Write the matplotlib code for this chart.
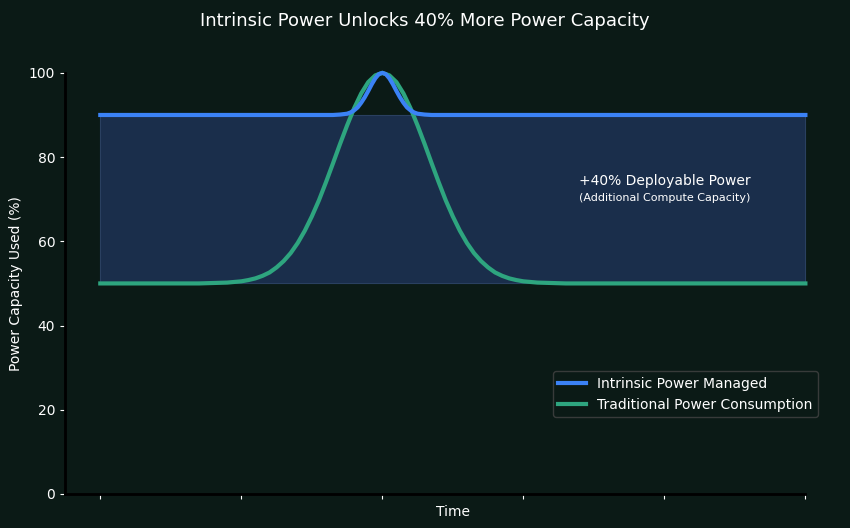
import matplotlib
matplotlib.use('Agg')
import matplotlib.pyplot as plt

# data (time axis 0..10, peak at t=4)
time_range = [0, 10]
band_low = 50
band_high = 90

blue_t = [0, 3.3, 3.4, 3.45, 3.5, 3.55, 3.6, 3.65, 3.7, 3.75, 3.8, 3.85, 3.9, 3.95, 4.0,
          4.05, 4.1, 4.15, 4.2, 4.25, 4.3, 4.35, 4.4, 4.45, 4.5, 4.55, 4.6, 4.7, 10]
blue_v = [90, 90.0, 90.1, 90.2, 90.3, 90.6, 91.1, 91.8, 92.9, 94.2, 95.7, 97.3, 98.7, 99.7, 100,
          99.7, 98.7, 97.3, 95.7, 94.2, 92.9, 91.8, 91.1, 90.6, 90.3, 90.2, 90.1, 90.0, 90]

green_t = [0, 1.4, 1.6, 1.8, 2.0, 2.1, 2.2, 2.3, 2.4, 2.5, 2.6, 2.7, 2.8, 2.9, 3.0,
           3.1, 3.2, 3.3, 3.4, 3.5, 3.6, 3.7, 3.8, 3.9, 4.0,
           4.1, 4.2, 4.3, 4.4, 4.5, 4.6, 4.7, 4.8, 4.9, 5.0,
           5.1, 5.2, 5.3, 5.4, 5.5, 5.6, 5.7, 5.8, 5.9, 6.0, 6.2, 6.4, 6.6, 10]
green_v = [50, 50.0, 50.1, 50.2, 50.5, 50.8, 51.2, 51.8, 52.6, 53.8, 55.3, 57.2, 59.6, 62.5, 65.9,
           69.7, 74.0, 78.5, 83.1, 87.5, 91.6, 95.1, 97.8, 99.4, 100,
           99.4, 97.8, 95.1, 91.6, 87.5, 83.1, 78.5, 74.0, 69.7, 65.9,
           62.5, 59.6, 57.2, 55.3, 53.8, 52.6, 51.8, 51.2, 50.8, 50.5, 50.2, 50.1, 50.0, 50]

BG = '#0b1a16'
BLUE = '#3b82f6'
GREEN = '#2ea57f'

fig = plt.figure(figsize=(8.5, 5.28), dpi=100, facecolor=BG)
ax = fig.add_axes([0.0765, 0.0644, 0.9125, 0.7976])
ax.set_facecolor(BG)

# band between traditional baseline and managed cap
ax.fill_between(time_range, [band_low, band_low], [band_high, band_high],
                facecolor='#1a2e4b', edgecolor='#2a4060', linewidth=0.8, zorder=1)

ax.plot(blue_t, blue_v, color=BLUE, lw=3, label='Intrinsic Power Managed', zorder=3, clip_on=False)
ax.plot(green_t, green_v, color=GREEN, lw=3, label='Traditional Power Consumption', zorder=2, clip_on=False)

ax.text(8, 74.3, '+40% Deployable Power', color='white', fontsize=10, ha='center', va='center')
ax.text(8, 70.3, '(Additional Compute Capacity)', color='white', fontsize=8, ha='center', va='center')

ax.set_xlim(-0.5, 10.5)
ax.set_ylim(0, 100)
ax.set_xticks([0, 2, 4, 6, 8, 10])
ax.set_xticklabels([])
ax.set_yticks([0, 20, 40, 60, 80, 100])
ax.tick_params(colors='white', labelsize=10)
ax.set_xlabel('Time', color='white', fontsize=10, labelpad=1)
ax.set_ylabel('Power Capacity Used (%)', color='white', fontsize=10)
fig.suptitle('Intrinsic Power Unlocks 40% More Power Capacity', color='white', fontsize=13,
             x=0.5, y=0.96, va='center')

for s in ['top', 'right']:
    ax.spines[s].set_visible(False)
for s in ['left', 'bottom']:
    ax.spines[s].set_color('black')
    ax.spines[s].set_linewidth(2)
ax.spines['bottom'].set_bounds(-0.5, 10)

leg = ax.legend(loc='lower right', bbox_to_anchor=(0.98, 0.166), fontsize=10,
                facecolor=BG, edgecolor='#444444', labelcolor='white')

plt.savefig('out.png', facecolor=BG)
